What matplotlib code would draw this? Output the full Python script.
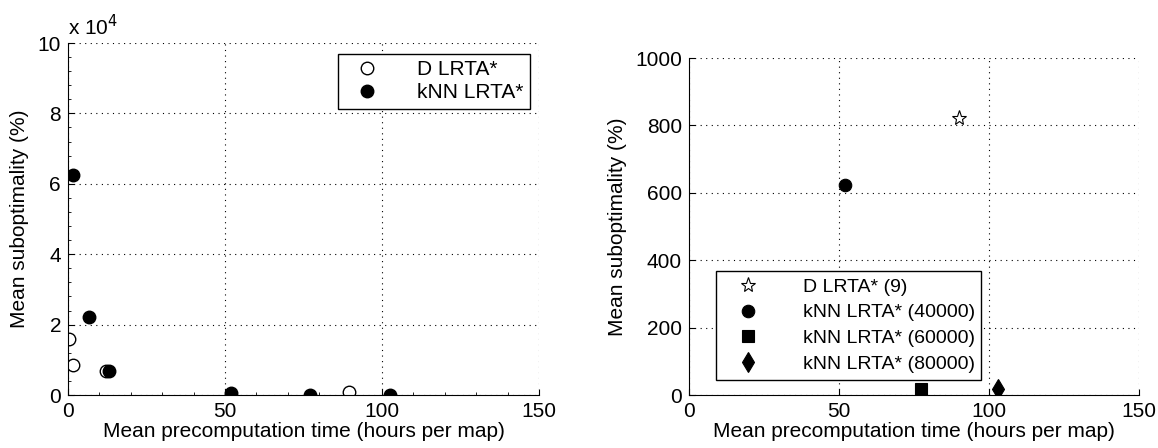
import numpy as np
import matplotlib
matplotlib.use('Agg')
from matplotlib import pyplot as plt
from matplotlib.ticker import FuncFormatter, AutoMinorLocator

plt.rcParams['font.family'] = ['Liberation Sans', 'DejaVu Sans']
plt.rcParams['font.size'] = 15

# left panel: all runs (suboptimality in %)
d_time = [0.4, 1.7, 12.0, 89.6]
d_subopt = [16000, 8500, 6900, 800]
knn_time = [1.5, 6.6, 13.1, 51.8, 77.0, 102.7]
knn_subopt = [62400, 22300, 6900, 700, 50, 30]

# right panel: selected configurations
sel_labels = ['D LRTA* (9)', 'kNN LRTA* (40000)',
              'kNN LRTA* (60000)', 'kNN LRTA* (80000)']
sel_time = [90.0, 51.9, 77.3, 103.0]
sel_subopt = [821, 622, 17, 17]
sel_markers = ['*', 'o', 's', 'd']
sel_face = ['white', 'black', 'black', 'black']
sel_sizes = [11, 9, 8, 10]

fig = plt.figure(figsize=(11.58, 4.48), dpi=100)
ax1 = fig.add_axes([0.0587, 0.1183, 0.4067, 0.7857])
ax2 = fig.add_axes([0.595, 0.1183, 0.3886, 0.7522])


def style_axes(ax):
    ax.spines['top'].set_visible(False)
    ax.spines['right'].set_visible(False)
    ax.grid(True, color='black', linestyle=(0, (1, 4)), linewidth=0.8)
    ax.tick_params(direction='in', length=4, width=0.8, pad=5)
    ax.set_xlim(0, 150)
    ax.set_xticks([0, 50, 100, 150])
    ax.set_xlabel('Mean precomputation time (hours per map)', labelpad=1)
    ax.set_ylabel('Mean suboptimality (%)', labelpad=6)


# left
style_axes(ax1)
ax1.plot(d_time, d_subopt, 'o', markersize=9, markerfacecolor='white',
         markeredgecolor='black', markeredgewidth=1, label='D LRTA*')
ax1.plot(knn_time, knn_subopt, 'o', markersize=9, markerfacecolor='black',
         markeredgecolor='black', label='kNN LRTA*')
ax1.set_ylim(0, 100000)
ax1.set_yticks(np.arange(0, 100001, 20000))
ax1.yaxis.set_major_formatter(FuncFormatter(lambda v, p: f'{v / 1e4:g}'))
ax1.xaxis.set_minor_locator(AutoMinorLocator(5))
ax1.yaxis.set_minor_locator(AutoMinorLocator(5))
ax1.tick_params(which='minor', direction='in', length=2, width=0.6)
ax1.text(0.0, 1.012, r'x 10$^{4}$', transform=ax1.transAxes, fontsize=15,
         ha='left', va='bottom')
ax1.legend(loc='upper right', bbox_to_anchor=(0.981, 0.969), borderaxespad=0,
           fancybox=False, edgecolor='black', framealpha=1, handletextpad=1.3,
           borderpad=0.3, labelspacing=0.2, handlelength=2.2)

# right
style_axes(ax2)
for t, s, m, fc, ms, lab in zip(sel_time, sel_subopt, sel_markers,
                                sel_face, sel_sizes, sel_labels):
    ax2.plot([t], [s], marker=m, linestyle='none', markersize=ms,
             markerfacecolor=fc, markeredgecolor='black',
             markeredgewidth=0.8, label=lab)
ax2.set_ylim(0, 1000)
ax2.set_yticks(np.arange(0, 1001, 200))
ax2.legend(loc='lower left', bbox_to_anchor=(0.06, 0.045), borderaxespad=0,
           fancybox=False, edgecolor='black', framealpha=1, handletextpad=1.5,
           borderpad=0.35, labelspacing=0.42, handlelength=2.6, fontsize=14)

for ax in (ax1, ax2):
    for sp in ('left', 'bottom'):
        ax.spines[sp].set_linewidth(0.8)

plt.savefig('out.png', dpi=100)
